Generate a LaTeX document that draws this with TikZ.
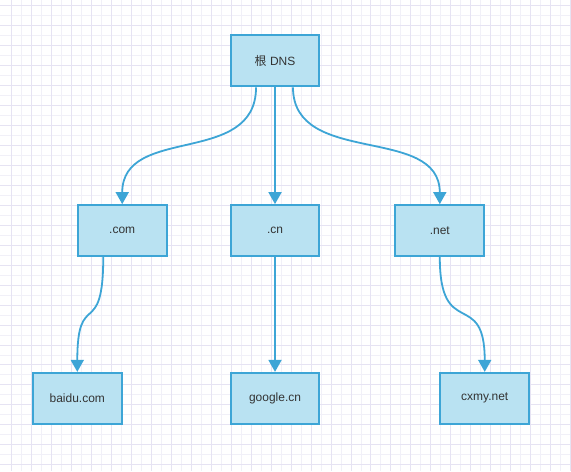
\documentclass[tikz,border=0pt]{standalone}
\usepackage{fontspec}
\setmainfont{Liberation Sans}
\newfontfamily\cjk{Noto Sans CJK SC}
\usetikzlibrary{arrows.meta, positioning}
\definecolor{dnsline}{HTML}{3DA5D6}
\definecolor{dnsfill}{HTML}{B9E2F2}
\definecolor{dnstext}{HTML}{333333}
\definecolor{gridmaj}{HTML}{E6E3F3}
\definecolor{gridmin}{HTML}{F1F0F8}
\tikzset{
  zone/.style={
    rectangle, draw=dnsline, fill=dnsfill, line width=2pt,
    minimum width=89pt, minimum height=51pt, inner sep=2pt,
    font=\fontsize{12}{14}\selectfont, text=dnstext},
  link/.style={-{Triangle[length=12pt, width=13pt]}, draw=dnsline, line width=1.8pt},   % delegation
}

\begin{document}
\begin{tikzpicture}[x=1pt, y=-1pt, node distance=10pt]

% grid paper
\fill[white] (0,0) rectangle (571,471);
\foreach \gx in {21,41,...,571} \draw[gridmin, line width=0.8pt] (\gx,0) -- (\gx,471);
\foreach \gy in {15,35,...,471} \draw[gridmin, line width=0.8pt] (0,\gy) -- (571,\gy);
\foreach \gx in {11,31,...,571} \draw[gridmaj, line width=0.8pt] (\gx,0) -- (\gx,471);
\foreach \gy in {5,25,...,471} \draw[gridmaj, line width=0.8pt] (0,\gy) -- (571,\gy);
\useasboundingbox (0,0) rectangle (571,471);

\node[zone] (root) at (275,60.5) {{\cjk 根} DNS};

\node[zone, below=117pt of root] (cn) {.cn};
\node[zone, left=62pt of cn] (com) {.com};
\node[zone, right=74pt of cn] (net) {.net};

\node[zone, below=115pt of cn] (google) {google.cn};
\node[zone, left=107pt of google] (baidu) {baidu.com};
\node[zone, right=119pt of google] (cxmy) {cxmy.net};

\draw[link] ([xshift=-19pt]root.south) .. controls +(0,80) and +(0,-80) .. (com.north);
\draw[link] (root) -- (cn);
\draw[link] ([xshift=18pt]root.south) .. controls +(0,80) and +(0,-80) .. (net.north);

\draw[link] ([xshift=-19pt]com.south) .. controls +(0,85) and +(0,-85) .. (baidu.north);
\draw[link] (cn) -- (google);
\draw[link] (net.south) .. controls +(0,85) and +(0,-85) .. (cxmy.north);

\end{tikzpicture}
\end{document}
